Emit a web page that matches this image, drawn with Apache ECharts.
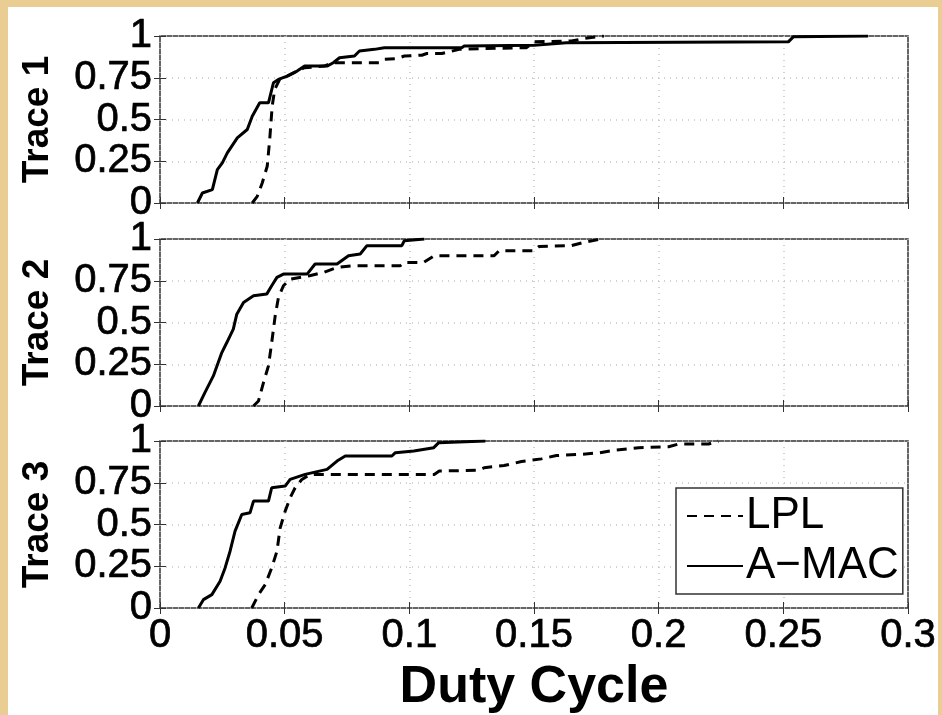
<!DOCTYPE html>
<html><head><meta charset="utf-8">
<script src="https://cdn.jsdelivr.net/npm/echarts@6/dist/echarts.min.js"></script>
<style>
html,body{margin:0;padding:0;width:942px;height:715px;background:#e9cd93;overflow:hidden;}
#paper{position:absolute;left:8px;top:7px;width:930px;height:708px;background:#fff;}
#chart{position:absolute;left:0;top:0;width:942px;height:715px;}
</style></head>
<body><div id="paper"></div><div id="chart"></div>
<script>
const panelNames = ['Trace 1', 'Trace 2', 'Trace 3'];
const seriesNames = ['LPL', 'A\u2212MAC'];
const xTicks = [0, 0.05, 0.1, 0.15, 0.2, 0.25, 0.3];
const yTicks = [0, 0.25, 0.5, 0.75, 1];

const lpl1 = [[0.037,0],[0.039,0.04],[0.041,0.12],[0.043,0.22],[0.044,0.38],[0.045,0.58],[0.046,0.68],[0.048,0.74],[0.051,0.76],[0.055,0.79],[0.058,0.81],[0.066,0.82],[0.069,0.84],[0.088,0.84],[0.090,0.86],[0.095,0.865],[0.098,0.88],[0.105,0.885],[0.107,0.895],[0.113,0.895],[0.12,0.92],[0.13,0.925],[0.147,0.93],[0.150,0.965],[0.165,0.97],[0.17,0.985],[0.178,1.0]];
const amac1 = [[0.015,0],[0.017,0.06],[0.021,0.08],[0.023,0.2],[0.025,0.24],[0.027,0.30],[0.031,0.39],[0.035,0.44],[0.037,0.52],[0.040,0.60],[0.0435,0.60],[0.0455,0.72],[0.0475,0.74],[0.051,0.76],[0.055,0.79],[0.058,0.82],[0.067,0.82],[0.0695,0.84],[0.072,0.87],[0.078,0.88],[0.080,0.91],[0.086,0.92],[0.090,0.93],[0.121,0.93],[0.122,0.94],[0.15,0.945],[0.163,0.96],[0.252,0.965],[0.254,0.995],[0.284,1.0]];

const lpl2 = [[0.0375,0],[0.0395,0.03],[0.0415,0.14],[0.0435,0.24],[0.0448,0.38],[0.0462,0.54],[0.0475,0.65],[0.0495,0.72],[0.0522,0.76],[0.06,0.78],[0.0656,0.80],[0.071,0.83],[0.0776,0.84],[0.0964,0.84],[0.098,0.86],[0.1057,0.86],[0.110,0.90],[0.134,0.90],[0.136,0.93],[0.15,0.93],[0.152,0.955],[0.165,0.96],[0.17,0.98],[0.177,1.0]];
const amac2 = [[0.0154,0],[0.018,0.08],[0.0214,0.18],[0.0248,0.32],[0.0268,0.38],[0.0294,0.46],[0.0308,0.55],[0.0335,0.62],[0.0375,0.66],[0.0428,0.67],[0.0448,0.72],[0.0469,0.77],[0.0495,0.79],[0.059,0.79],[0.0622,0.85],[0.071,0.85],[0.0756,0.90],[0.0803,0.91],[0.083,0.96],[0.097,0.96],[0.098,0.99],[0.106,1.0]];

const lpl3 = [[0.0368,0],[0.0395,0.08],[0.0422,0.14],[0.0448,0.24],[0.0469,0.34],[0.0482,0.48],[0.0502,0.58],[0.0522,0.66],[0.0542,0.72],[0.0569,0.77],[0.0602,0.80],[0.110,0.80],[0.112,0.82],[0.128,0.825],[0.130,0.84],[0.138,0.853],[0.145,0.877],[0.153,0.893],[0.159,0.913],[0.169,0.92],[0.176,0.929],[0.183,0.946],[0.192,0.96],[0.204,0.966],[0.208,0.982],[0.22,0.982],[0.224,1.0]];
const amac3 = [[0.0154,0],[0.0174,0.05],[0.0208,0.08],[0.0241,0.16],[0.0261,0.24],[0.0281,0.34],[0.0301,0.46],[0.0328,0.56],[0.0361,0.57],[0.0375,0.64],[0.0435,0.64],[0.0448,0.72],[0.0502,0.73],[0.0522,0.77],[0.0582,0.80],[0.067,0.83],[0.071,0.88],[0.0743,0.91],[0.093,0.91],[0.0944,0.93],[0.1018,0.94],[0.1098,0.96],[0.1118,0.99],[0.1305,1.0]];

const panels = [[lpl1, amac1], [lpl2, amac2], [lpl3, amac3]];

const gridTops = [36, 239, 441];
const gridHeights = [167, 167, 168];
const FONT = '"Liberation Sans", Arial, Helvetica, sans-serif';
const gridColor = '#c4c4c4';
const thick = {textBorderColor: '#000', textBorderWidth: 0.7};

const grid = [], xAxis = [], yAxis = [], series = [];
panels.forEach((p, i) => {
  grid.push({left: 160, width: 748, top: gridTops[i], height: gridHeights[i], show: true,
    borderColor: '#333', borderWidth: 1.5, backgroundColor: '#fff'});
  const isLast = i === panels.length - 1;
  xAxis.push({type: 'value', gridIndex: i, min: xTicks[0], max: xTicks[xTicks.length-1], interval: 0.05,
    axisLine: {show: false}, axisTick: {show: true, inside: true, length: 6, lineStyle: {color: '#333', width: 1}},
    axisLabel: Object.assign({show: isLast, color: '#000', fontFamily: FONT, fontSize: 40, margin: 8,
      showMinLabel: true, showMaxLabel: true, hideOverlap: false,
      formatter: v => String(+v.toFixed(2))}, thick),
    splitLine: {show: true, lineStyle: {color: gridColor, type: [1, 5], width: 1.5}},
    name: isLast ? 'Duty Cycle' : '', nameLocation: 'middle', nameGap: 54,
    nameTextStyle: {fontFamily: FONT, fontWeight: 'bold', fontSize: 52, color: '#000'}});
  xAxis.push({type: 'value', gridIndex: i, position: 'top', min: xTicks[0], max: xTicks[xTicks.length-1], interval: 0.05,
    axisLine: {show: false}, axisTick: {show: true, inside: true, length: 6, lineStyle: {color: '#333', width: 1}},
    axisLabel: {show: false}, splitLine: {show: false}});
  yAxis.push({type: 'value', gridIndex: i, min: yTicks[0], max: yTicks[yTicks.length-1], interval: 0.25,
    axisLine: {show: false}, axisTick: {show: true, inside: true, length: 6, lineStyle: {color: '#333', width: 1}},
    axisLabel: Object.assign({color: '#000', fontFamily: FONT, fontSize: 40, lineHeight: 24, margin: 8,
      customValues: yTicks, showMinLabel: true, showMaxLabel: true, hideOverlap: false}, thick),
    splitLine: {show: true, lineStyle: {color: gridColor, type: [1, 5], width: 1.5}},
    name: panelNames[i], nameLocation: 'middle', nameGap: 104, nameRotate: 90,
    nameTextStyle: {fontFamily: FONT, fontWeight: 'bold', fontSize: 37, color: '#000'}});
  yAxis.push({type: 'value', gridIndex: i, position: 'right', min: yTicks[0], max: yTicks[yTicks.length-1], interval: 0.25,
    axisLine: {show: false}, axisTick: {show: true, inside: true, length: 6, lineStyle: {color: '#333', width: 1}},
    axisLabel: {show: false}, splitLine: {show: false}});
  series.push({name: seriesNames[0], type: 'line', xAxisIndex: 2*i, yAxisIndex: 2*i, data: p[0],
    symbol: 'none', lineStyle: {color: '#000', width: 3, type: [10, 7]}, itemStyle: {color: '#000'}, z: 3, animation: false});
  series.push({name: seriesNames[1], type: 'line', xAxisIndex: 2*i, yAxisIndex: 2*i, data: p[1],
    symbol: 'none', lineStyle: {color: '#000', width: 3, type: 'solid'}, itemStyle: {color: '#000'}, z: 4, animation: false});
});

const chart = echarts.init(document.getElementById('chart'), null, {renderer: 'canvas'});
chart.setOption({
  animation: false,
  backgroundColor: 'transparent',
  grid, xAxis, yAxis, series,
  legend: {data: seriesNames, orient: 'vertical', left: 676, top: 488,
    backgroundColor: '#fff', borderColor: '#333', borderWidth: 1.5, padding: [6, 4, 6, 10],
    itemWidth: 56, itemHeight: 14, itemGap: 6,
    itemStyle: {opacity: 0},
    textStyle: {fontFamily: FONT, fontSize: 44, color: '#000', padding: [0, 0, 0, -2]}}
});
</script></body></html>
